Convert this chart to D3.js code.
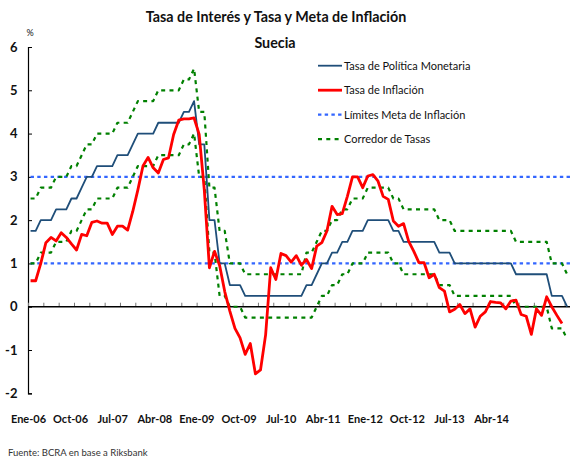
<!DOCTYPE html>
<html>
<head>
<meta charset="utf-8">
<script src="https://cdn.jsdelivr.net/npm/d3@7/dist/d3.min.js"></script>
<style>
  html, body { margin: 0; padding: 0; background: #fff; }
  svg { display: block; }
  text { font-family: Lato, "Open Sans", sans-serif; fill: #111; }
</style>
</head>
<body>
<svg id="chart" width="570" height="460"></svg>
<script>
// Monthly series, January 2006 onward (one value per month)
const startYear = 2006;

// Riksbank repo rate (%)
const policyRate = [
  1.75, 1.75, 2.0, 2.0, 2.0, 2.25, 2.25, 2.25, 2.5, 2.5, 2.75, 3.0,
  3.0, 3.25, 3.25, 3.25, 3.25, 3.5, 3.5, 3.5, 3.75, 4.0, 4.0, 4.0,
  4.0, 4.25, 4.25, 4.25, 4.25, 4.25, 4.5, 4.5, 4.75, 3.75, 3.75, 2.0,
  2.0, 1.0, 1.0, 0.5, 0.5, 0.5, 0.25, 0.25, 0.25, 0.25, 0.25, 0.25,
  0.25, 0.25, 0.25, 0.25, 0.25, 0.25, 0.5, 0.5, 0.75, 1.0, 1.0, 1.25,
  1.25, 1.5, 1.5, 1.75, 1.75, 1.75, 2.0, 2.0, 2.0, 2.0, 2.0, 1.75,
  1.75, 1.5, 1.5, 1.5, 1.5, 1.5, 1.5, 1.5, 1.25, 1.25, 1.25, 1.0,
  1.0, 1.0, 1.0, 1.0, 1.0, 1.0, 1.0, 1.0, 1.0, 1.0, 1.0, 0.75,
  0.75, 0.75, 0.75, 0.75, 0.75, 0.75, 0.25, 0.25, 0.25, 0.0
];

// CPI inflation, year-on-year (%)
const inflation = [
  0.6, 0.6, 1.0, 1.48, 1.6, 1.52, 1.71, 1.6, 1.45, 1.31, 1.67, 1.64,
  1.95, 1.98, 1.93, 1.93, 1.67, 1.86, 1.86, 1.77, 2.2, 2.7, 3.25, 3.45,
  3.21, 3.09, 3.4, 3.44, 3.98, 4.31, 4.34, 4.34, 4.36, 3.98, 2.7, 0.9,
  1.28, 0.95, 0.35, -0.1, -0.5, -0.72, -1.1, -0.85, -1.55, -1.46, -0.65, 0.9,
  0.63, 1.23, 1.18, 1.03, 1.18, 0.96, 1.09, 0.88, 1.4, 1.48, 1.75, 2.32,
  2.13, 2.15, 2.55, 3.0, 3.0, 2.75, 3.02, 3.05, 2.9, 2.55, 2.48, 1.98,
  1.86, 1.92, 1.51, 1.28, 1.02, 1.02, 0.67, 0.75, 0.44, 0.36, -0.12, -0.06,
  0.05, -0.16, -0.05, -0.47, -0.22, -0.12, 0.12, 0.1, 0.09, -0.05, 0.13, 0.15,
  -0.18, -0.22, -0.64, -0.05, -0.2, 0.23, 0.0, -0.2, -0.39
];

// Rate corridor: lending rate (upper) and deposit rate (lower), %
const corridorUpper = [
  2.5, 2.5, 2.75, 2.75, 2.75, 3.0, 3.0, 3.0, 3.25, 3.25, 3.5, 3.75,
  3.75, 4.0, 4.0, 4.0, 4.0, 4.25, 4.25, 4.25, 4.5, 4.75, 4.75, 4.75,
  4.75, 5.0, 5.0, 5.0, 5.0, 5.0, 5.25, 5.25, 5.5, 4.5, 4.5, 2.75,
  2.75, 1.75, 1.75, 1.0, 1.0, 1.0, 0.75, 0.75, 0.75, 0.75, 0.75, 0.75,
  0.75, 0.75, 0.75, 0.75, 0.75, 0.75, 1.25, 1.25, 1.5, 1.75, 1.75, 2.0,
  2.0, 2.25, 2.25, 2.5, 2.5, 2.5, 2.75, 2.75, 2.75, 2.75, 2.75, 2.5,
  2.5, 2.25, 2.25, 2.25, 2.25, 2.25, 2.25, 2.25, 2.0, 2.0, 2.0, 1.75,
  1.75, 1.75, 1.75, 1.75, 1.75, 1.75, 1.75, 1.75, 1.75, 1.75, 1.75, 1.5,
  1.5, 1.5, 1.5, 1.5, 1.5, 1.5, 1.0, 1.0, 1.0, 0.75
];
const corridorLower = [
  1.0, 1.0, 1.25, 1.25, 1.25, 1.5, 1.5, 1.5, 1.75, 1.75, 2.0, 2.25,
  2.25, 2.5, 2.5, 2.5, 2.5, 2.75, 2.75, 2.75, 3.0, 3.25, 3.25, 3.25,
  3.25, 3.5, 3.5, 3.5, 3.5, 3.5, 3.75, 3.75, 4.0, 3.0, 3.0, 1.25,
  1.25, 0.25, 0.25, 0.0, 0.0, 0.0, -0.25, -0.25, -0.25, -0.25, -0.25, -0.25,
  -0.25, -0.25, -0.25, -0.25, -0.25, -0.25, -0.25, -0.25, 0.0, 0.25, 0.25, 0.5,
  0.5, 0.75, 0.75, 1.0, 1.0, 1.0, 1.25, 1.25, 1.25, 1.25, 1.25, 1.0,
  1.0, 0.75, 0.75, 0.75, 0.75, 0.75, 0.75, 0.75, 0.5, 0.5, 0.5, 0.25,
  0.25, 0.25, 0.25, 0.25, 0.25, 0.25, 0.25, 0.25, 0.25, 0.25, 0.25, 0.0,
  0.0, 0.0, 0.0, 0.0, 0.0, 0.0, -0.5, -0.5, -0.5, -0.75
];

// Inflation target band limits (%)
const targetLimits = [1, 3];

// Axis labels
const yTicks = [6, 5, 4, 3, 2, 1, 0, -1, -2];
const xLabels = ["Ene-06", "Oct-06", "Jul-07", "Abr-08", "Ene-09", "Oct-09",
                 "Jul-10", "Abr-11", "Ene-12", "Oct-12", "Jul-13", "Abr-14"];

const legendItems = [
  { key: "policy", label: "Tasa de Política Monetaria" },
  { key: "inflation", label: "Tasa de Inflación" },
  { key: "target", label: "Límites Meta de Inflación" },
  { key: "corridor", label: "Corredor de Tasas" }
];

const styles = {
  policy:    { color: "#1f4e79", width: 1.8, dash: null },
  inflation: { color: "#ff0000", width: 2.8, dash: null },
  target:    { color: "#3366ff", width: 2.2, dash: "3.4,3.3" },
  corridor:  { color: "#008000", width: 2.2, dash: "4,4.3" }
};

const svg = d3.select("#chart");

// Plot geometry
const left = 28, monthW = 5.11;
const nMonths = policyRate.length;
const x = d3.scaleLinear()
  .domain([0, nMonths - 1])
  .range([left + monthW / 2, left + monthW / 2 + monthW * (nMonths - 1)]);
const y = d3.scaleLinear().domain([-2, 6]).range([393.3, 47]);

// Title
svg.append("text")
  .attr("x", 276).attr("y", 21.5)
  .attr("text-anchor", "middle")
  .style("font-size", "14.3px").style("font-weight", "bold")
  .text("Tasa de Interés y Tasa y Meta de Inflación");
svg.append("text")
  .attr("x", 275).attr("y", 47.5)
  .attr("text-anchor", "middle")
  .style("font-size", "14.3px").style("font-weight", "bold")
  .text("Suecia");

// Unit label
svg.append("text")
  .attr("x", 30).attr("y", 36)
  .attr("text-anchor", "middle")
  .style("font-size", "9px")
  .text("%");

// Y axis
const yAxis = d3.axisRight(y).tickValues(yTicks).tickSize(4).tickFormat("");
const gy = svg.append("g").attr("transform", `translate(${left},0)`).call(yAxis);
gy.select(".domain").attr("stroke", "#000").attr("stroke-width", 1.2);
gy.selectAll(".tick line").attr("stroke", "#000");
svg.append("g").selectAll("text").data(yTicks).join("text")
  .attr("x", 17.5).attr("y", d => y(d) + 4.5)
  .attr("text-anchor", "end")
  .style("font-size", "13px").style("font-weight", "bold")
  .text(d => d);

// X axis along zero with quarterly ticks
const quarterBounds = d3.range(0, nMonths, 3).map(i => i - 0.5);
const xAxis = d3.axisTop(x).tickValues(quarterBounds).tickSize(4).tickFormat("").tickSizeOuter(0);
const gx = svg.append("g").attr("transform", `translate(0,${y(0)})`).call(xAxis);
gx.select(".domain").remove();
gx.selectAll(".tick line").attr("stroke", "#777");
svg.append("line")
  .attr("x1", left).attr("x2", 570)
  .attr("y1", y(0)).attr("y2", y(0))
  .attr("stroke", "#000").attr("stroke-width", 1.4);

// X category labels
const xl = d3.scalePoint().domain(xLabels).range([28.5, 491.6]);
svg.append("g").selectAll("text").data(xLabels).join("text")
  .attr("x", d => xl(d)).attr("y", 422.5)
  .attr("text-anchor", "middle")
  .style("font-size", "11px").style("font-weight", "bold")
  .text(d => d);

// Series lines
const line = d3.line().x((d, i) => x(i)).y(d => y(d));
const plot = svg.append("g");

function drawSeries(values, st) {
  plot.append("path")
    .attr("d", line(values))
    .attr("fill", "none")
    .attr("stroke", st.color)
    .attr("stroke-width", st.width)
    .attr("stroke-dasharray", st.dash)
    .attr("stroke-linejoin", "round");
}

// Target band limits
targetLimits.forEach(v => {
  plot.append("line")
    .attr("x1", x(0)).attr("x2", 570)
    .attr("y1", y(v)).attr("y2", y(v))
    .attr("stroke", styles.target.color)
    .attr("stroke-width", styles.target.width)
    .attr("stroke-dasharray", styles.target.dash);
});
drawSeries(corridorUpper, styles.corridor);
drawSeries(corridorLower, styles.corridor);
drawSeries(policyRate, styles.policy);
drawSeries(inflation, styles.inflation);

// Legend
const lg = svg.append("g");
legendItems.forEach((it, k) => {
  const st = styles[it.key];
  const ly = 65.7 + k * 24.5;
  lg.append("line")
    .attr("x1", 318).attr("x2", 342)
    .attr("y1", ly).attr("y2", ly)
    .attr("stroke", st.color)
    .attr("stroke-width", st.width)
    .attr("stroke-dasharray", st.dash);
  lg.append("text")
    .attr("x", 344).attr("y", ly + 4)
    .style("font-size", "11px")
    .text(it.label);
});

// Source note
svg.append("text")
  .attr("x", 8).attr("y", 456)
  .style("font-size", "9.5px").style("fill", "#333")
  .text("Fuente: BCRA en base a Riksbank");
</script>
</body>
</html>
